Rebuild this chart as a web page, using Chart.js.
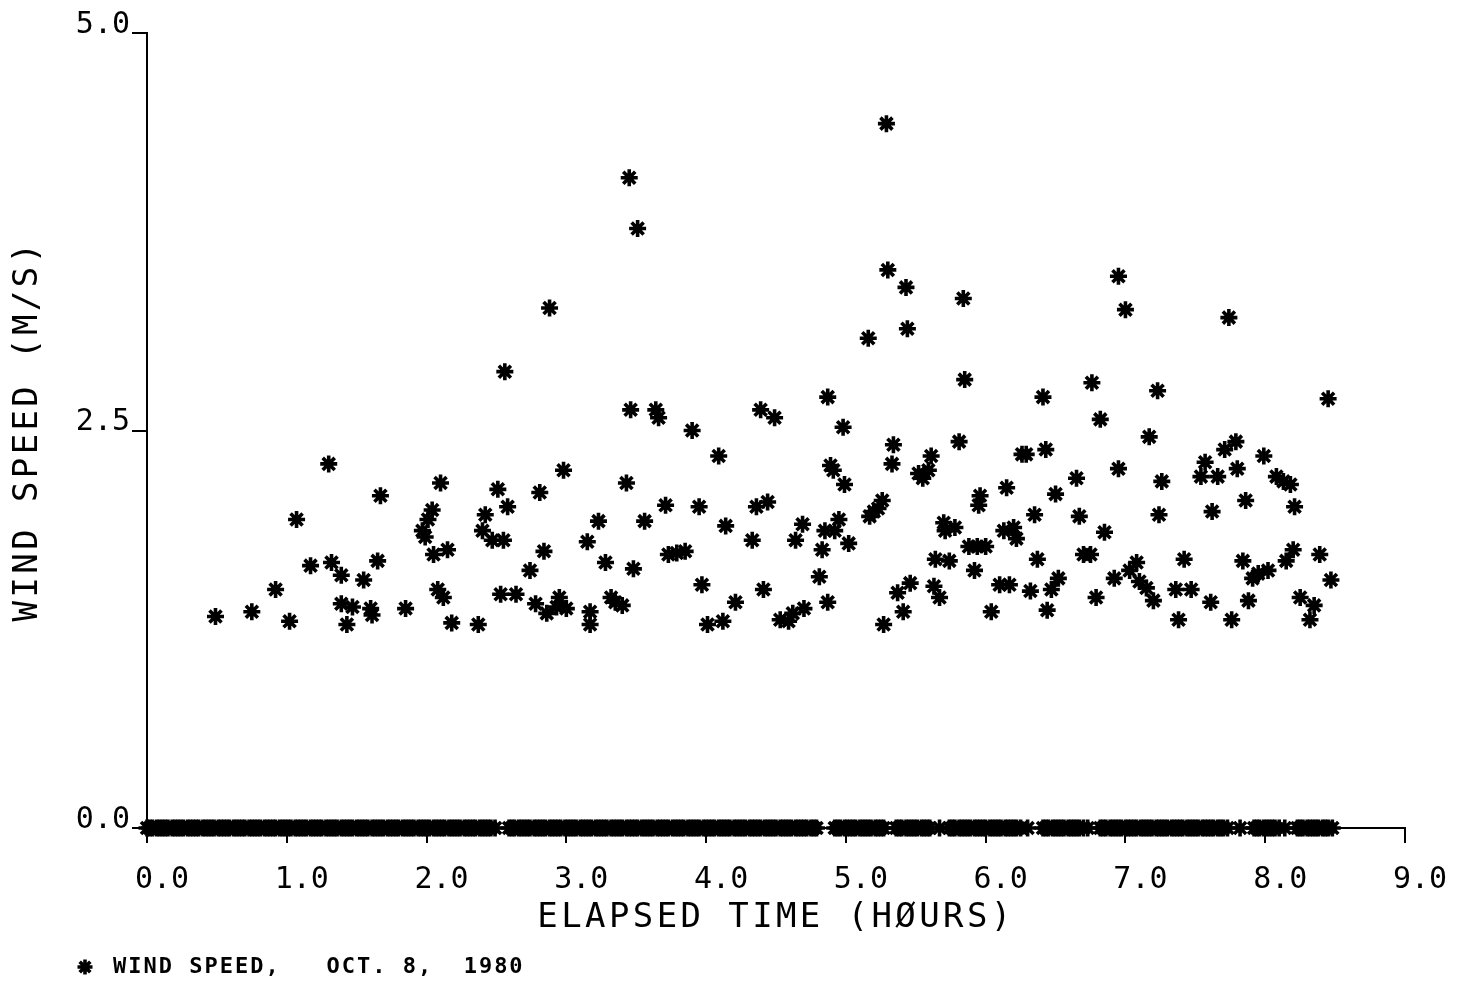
<!DOCTYPE html>
<html>
<head>
<meta charset="utf-8">
<title>Wind speed, Oct. 8, 1980</title>
<script src="https://cdn.jsdelivr.net/npm/chart.js@4.4.1/dist/chart.umd.min.js"></script>
<style>
  html, body { margin: 0; padding: 0; background: #ffffff; }
  canvas { display: block; }
</style>
</head>
<body>
<canvas id="wind" width="1457" height="986"></canvas>
<script>
// Elapsed time (hours) and wind speed (m/s) for readings above zero
const hours = [
  0.49, 0.75, 0.92, 1.02, 1.07, 1.17, 1.30, 1.32, 1.39, 1.39, 1.43, 1.47, 1.55, 1.60, 1.61, 1.65, 1.67, 1.85,
  1.97, 1.99, 2.01, 2.04, 2.05, 2.08, 2.10, 2.12, 2.15, 2.18, 2.37, 2.40, 2.42, 2.47, 2.51, 2.53, 2.55, 2.56,
  2.58, 2.64, 2.74, 2.78, 2.81, 2.84, 2.86, 2.88, 2.93, 2.95, 2.98, 3.00, 3.15, 3.17, 3.17, 3.23, 3.28, 3.32,
  3.35, 3.40, 3.43, 3.45, 3.46, 3.48, 3.51, 3.56, 3.64, 3.66, 3.71, 3.73, 3.79, 3.85, 3.90, 3.95, 3.97, 4.01,
  4.09, 4.12, 4.14, 4.21, 4.33, 4.36, 4.39, 4.41, 4.44, 4.49, 4.53, 4.59, 4.62, 4.64, 4.69, 4.70, 4.81, 4.83,
  4.85, 4.87, 4.87, 4.89, 4.91, 4.92, 4.95, 4.98, 4.99, 5.02, 5.16, 5.17, 5.20, 5.23, 5.26, 5.27, 5.29, 5.30,
  5.33, 5.34, 5.37, 5.41, 5.43, 5.44, 5.46, 5.52, 5.55, 5.59, 5.61, 5.63, 5.64, 5.67, 5.70, 5.71, 5.74, 5.78,
  5.81, 5.84, 5.85, 5.88, 5.92, 5.94, 5.95, 5.96, 6.00, 6.04, 6.10, 6.13, 6.15, 6.17, 6.20, 6.22, 6.26, 6.29,
  6.32, 6.35, 6.37, 6.41, 6.43, 6.44, 6.47, 6.50, 6.52, 6.65, 6.67, 6.70, 6.75, 6.76, 6.79, 6.82, 6.85, 6.92,
  6.95, 6.95, 7.00, 7.03, 7.08, 7.10, 7.15, 7.17, 7.20, 7.23, 7.24, 7.26, 7.36, 7.38, 7.42, 7.47, 7.54, 7.57,
  7.61, 7.62, 7.66, 7.71, 7.74, 7.76, 7.79, 7.80, 7.84, 7.86, 7.88, 7.91, 7.95, 7.99, 8.02, 8.08, 8.13, 8.15,
  8.18, 8.20, 8.21, 8.25, 8.32, 8.35, 8.39, 8.45, 8.47
];
const speeds = [
  1.33, 1.36, 1.50, 1.30, 1.94, 1.65, 2.29, 1.67, 1.59, 1.41, 1.28, 1.39, 1.56, 1.38, 1.34, 1.68, 2.09, 1.38,
  1.87, 1.83, 1.94, 2.00, 1.72, 1.50, 2.17, 1.45, 1.75, 1.29, 1.28, 1.87, 1.97, 1.81, 2.13, 1.47, 1.81, 2.87,
  2.02, 1.47, 1.62, 1.41, 2.11, 1.74, 1.35, 3.27, 1.39, 1.45, 2.25, 1.38, 1.80, 1.36, 1.28, 1.93, 1.67, 1.45,
  1.42, 1.40, 2.17, 4.09, 2.63, 1.63, 3.77, 1.93, 2.63, 2.58, 2.03, 1.72, 1.73, 1.74, 2.50, 2.02, 1.53, 1.28,
  2.34, 1.30, 1.90, 1.42, 1.81, 2.02, 2.63, 1.50, 2.05, 2.58, 1.31, 1.30, 1.35, 1.81, 1.91, 1.38, 1.58, 1.75,
  1.87, 2.71, 1.42, 2.28, 2.25, 1.87, 1.94, 2.52, 2.16, 1.79, 3.08, 1.96, 1.99, 2.01, 2.06, 1.28, 4.43, 3.51,
  2.29, 2.41, 1.48, 1.36, 3.40, 3.14, 1.54, 2.23, 2.20, 2.25, 2.34, 1.52, 1.69, 1.45, 1.92, 1.87, 1.68, 1.89,
  2.43, 3.33, 2.82, 1.77, 1.62, 1.77, 2.03, 2.09, 1.77, 1.36, 1.53, 1.87, 2.14, 1.53, 1.89, 1.82, 2.35, 2.35,
  1.49, 1.97, 1.69, 2.71, 2.38, 1.37, 1.50, 2.10, 1.57, 2.20, 1.96, 1.72, 1.72, 2.80, 1.45, 2.57, 1.86, 1.57,
  3.47, 2.26, 3.26, 1.62, 1.67, 1.55, 1.51, 2.46, 1.43, 2.75, 1.97, 2.18, 1.50, 1.31, 1.69, 1.50, 2.21, 2.30,
  1.42, 1.99, 2.21, 2.38, 3.21, 1.31, 2.43, 2.26, 1.68, 2.06, 1.43, 1.57, 1.60, 2.34, 1.62, 2.21, 2.18, 1.68,
  2.16, 1.75, 2.02, 1.45, 1.31, 1.40, 1.72, 2.70, 1.56
];
// Elapsed times (hours) of calm readings, wind speed 0.0 m/s
const calmHours = [
  0.00, 0.02, 0.04, 0.07, 0.09, 0.11, 0.13, 0.15, 0.18, 0.20, 0.22, 0.24, 0.26, 0.29, 0.31, 0.33, 0.35, 0.37,
  0.40, 0.42, 0.44, 0.46, 0.48, 0.51, 0.53, 0.55, 0.57, 0.59, 0.62, 0.64, 0.66, 0.68, 0.70, 0.73, 0.75, 0.77,
  0.79, 0.81, 0.84, 0.86, 0.88, 0.90, 0.92, 0.95, 0.97, 0.99, 1.01, 1.03, 1.06, 1.08, 1.10, 1.12, 1.14, 1.17,
  1.19, 1.21, 1.23, 1.25, 1.28, 1.30, 1.32, 1.34, 1.36, 1.39, 1.41, 1.43, 1.45, 1.47, 1.50, 1.52, 1.54, 1.56,
  1.58, 1.61, 1.63, 1.65, 1.67, 1.69, 1.72, 1.74, 1.76, 1.78, 1.80, 1.83, 1.85, 1.87, 1.89, 1.91, 1.94, 1.96,
  1.98, 2.00, 2.02, 2.05, 2.07, 2.09, 2.11, 2.13, 2.16, 2.18, 2.20, 2.22, 2.24, 2.27, 2.29, 2.31, 2.33, 2.35,
  2.38, 2.40, 2.42, 2.44, 2.46, 2.49,
  2.59, 2.61, 2.63, 2.66, 2.68, 2.70, 2.72, 2.74, 2.77, 2.79, 2.81, 2.83, 2.85, 2.88, 2.90, 2.92, 2.94, 2.96,
  2.99, 3.01, 3.03, 3.05, 3.07, 3.10, 3.12, 3.14, 3.16, 3.18, 3.21, 3.23, 3.25, 3.27, 3.29, 3.32, 3.34, 3.36,
  3.38, 3.40, 3.43, 3.45, 3.47, 3.49, 3.51, 3.54, 3.56, 3.58, 3.60, 3.62, 3.65, 3.67, 3.69, 3.71, 3.73, 3.76,
  3.78, 3.80, 3.82, 3.84, 3.87, 3.89, 3.91, 3.93, 3.95, 3.98, 4.00, 4.02, 4.04, 4.06, 4.09, 4.11, 4.13, 4.15,
  4.17, 4.20, 4.22, 4.24, 4.26, 4.28, 4.31, 4.33, 4.35, 4.37, 4.39, 4.42, 4.44, 4.46, 4.48, 4.50, 4.53, 4.55,
  4.57, 4.59, 4.61, 4.64, 4.66, 4.68, 4.70, 4.72, 4.75, 4.77, 4.79,
  4.92, 4.94, 4.96, 4.99, 5.01, 5.03, 5.05, 5.07, 5.10, 5.12, 5.14, 5.16, 5.18, 5.21, 5.23, 5.25, 5.27,
  5.36, 5.38, 5.40, 5.43, 5.45, 5.47, 5.49, 5.51, 5.54, 5.56, 5.58, 5.60, 5.67,
  5.74, 5.76, 5.78, 5.81, 5.83, 5.85, 5.87, 5.89, 5.92, 5.94, 5.96, 5.98, 6.00, 6.03, 6.05, 6.07, 6.09, 6.11,
  6.14, 6.16, 6.18, 6.20, 6.22, 6.25, 6.30,
  6.41, 6.43, 6.45, 6.48, 6.50, 6.52, 6.54, 6.56, 6.59, 6.61, 6.63, 6.65, 6.67, 6.70, 6.73,
  6.82, 6.84, 6.86, 6.89, 6.91, 6.93, 6.95, 6.97, 7.00, 7.02, 7.04, 7.06, 7.08, 7.11, 7.13, 7.15, 7.17, 7.19,
  7.22, 7.24, 7.26, 7.28, 7.30, 7.33, 7.35, 7.37, 7.39, 7.41, 7.44, 7.46, 7.48, 7.50, 7.52, 7.55, 7.57, 7.59,
  7.61, 7.63, 7.66, 7.68, 7.70, 7.73, 7.82,
  7.92, 7.94, 7.96, 7.99, 8.01, 8.03, 8.05, 8.07, 8.10, 8.14,
  8.23, 8.25, 8.27, 8.30, 8.32, 8.34, 8.36, 8.38, 8.41, 8.43, 8.45, 8.48
];
const xTicks = [0, 1, 2, 3, 4, 5, 6, 7, 8, 9];
const yTicks = [0, 2.5, 5];
const seriesLabel = 'WIND SPEED, OCT. 8, 1980';

const INK = '#000000';
const PLOT_FONT = '"DejaVu Sans Mono", monospace';

// Combined point list: readings above zero plus the calm readings on the axis
const points = hours.map((h, i) => ({ x: h, y: speeds[i] }))
  .concat(calmHours.map(h => ({ x: h, y: 0 })));

// Plotter lettering is widely spaced; apply canvas letter spacing per text group
function spaced(obj, key, px) {
  const orig = obj[key];
  obj[key] = function (...args) {
    const c = this.ctx;
    const prev = c.letterSpacing;
    c.letterSpacing = px;
    try { return orig.apply(this, args); }
    finally { c.letterSpacing = prev; }
  };
}
const letterSpacingPlugin = {
  id: 'letterSpacing',
  beforeDraw(chart) {
    for (const s of Object.values(chart.scales)) {
      if (s._spacedText) continue;
      s._spacedText = true;
      spaced(s, 'drawTitle', '3.4px');
      spaced(s, 'drawLabels', '0px');
    }
  }
};

// Key line below the axes: star marker followed by the series name
const keyPlugin = {
  id: 'plotKey',
  afterDraw(chart) {
    const ctx = chart.ctx;
    const ds = chart.data.datasets[0];
    const parts = ds.label.split(', ');
    ctx.save();
    ctx.strokeStyle = INK;
    ctx.fillStyle = INK;
    ctx.lineWidth = ds.pointBorderWidth;
    Chart.helpers.drawPoint(ctx, { pointStyle: 'star', radius: 7.5, rotation: 0, borderWidth: ds.pointBorderWidth }, 85, 967);
    ctx.font = 'bold 22px ' + PLOT_FONT;
    ctx.letterSpacing = '2px';
    ctx.textAlign = 'left';
    ctx.textBaseline = 'middle';
    ctx.fillText(parts[0] + ',   ' + parts[1] + ',  ' + parts[2], 113, 967);
    ctx.restore();
  }
};

new Chart(document.getElementById('wind'), {
  type: 'scatter',
  data: {
    datasets: [{
      label: seriesLabel,
      data: points,
      pointStyle: 'star',
      pointRadius: 8.5,
      pointHoverRadius: 8.5,
      pointBorderWidth: 3.6,
      pointBorderColor: INK,
      pointBackgroundColor: INK,
      clip: false
    }]
  },
  options: {
    responsive: false,
    animation: false,
    events: [],
    layout: { padding: { top: 33, right: 52, bottom: 40, left: 0 } },
    plugins: {
      legend: { display: false },
      tooltip: { enabled: false }
    },
    scales: {
      x: {
        type: 'linear',
        min: xTicks[0],
        max: xTicks[xTicks.length - 1],
        afterFit(scale) { scale.height = 118; },
        afterBuildTicks(scale) { scale.ticks = xTicks.map(v => ({ value: v })); },
        border: { display: true, color: INK, width: 2 },
        grid: { display: true, drawOnChartArea: false, drawTicks: true, tickLength: 15, color: INK, lineWidth: 2 },
        ticks: {
          autoSkip: false,
          maxRotation: 0,
          color: INK,
          padding: 22,
          labelOffset: 15,
          font: { family: PLOT_FONT, size: 30, lineHeight: 1 },
          callback: v => Number(v).toFixed(1)
        },
        title: {
          display: true,
          text: 'ELAPSED TIME (HØURS)',
          color: INK,
          font: { family: PLOT_FONT, size: 34, lineHeight: 1 },
          padding: { top: 0, bottom: 11 }
        }
      },
      y: {
        type: 'linear',
        min: yTicks[0],
        max: yTicks[yTicks.length - 1],
        afterFit(scale) { scale.width = 147; },
        afterBuildTicks(scale) { scale.ticks = yTicks.map(v => ({ value: v })); },
        border: { display: true, color: INK, width: 2 },
        grid: { display: true, drawOnChartArea: false, drawTicks: true, tickLength: 15, color: INK, lineWidth: 2 },
        ticks: {
          autoSkip: false,
          color: INK,
          padding: 2,
          labelOffset: -8,
          font: { family: PLOT_FONT, size: 30, lineHeight: 1 },
          callback: v => Number(v).toFixed(1)
        },
        title: {
          display: true,
          text: 'WIND SPEED (M/S)',
          color: INK,
          font: { family: PLOT_FONT, size: 34, lineHeight: 1 },
          padding: { top: 11, bottom: 0 }
        }
      }
    }
  },
  plugins: [letterSpacingPlugin, keyPlugin]
});
</script>
</body>
</html>
